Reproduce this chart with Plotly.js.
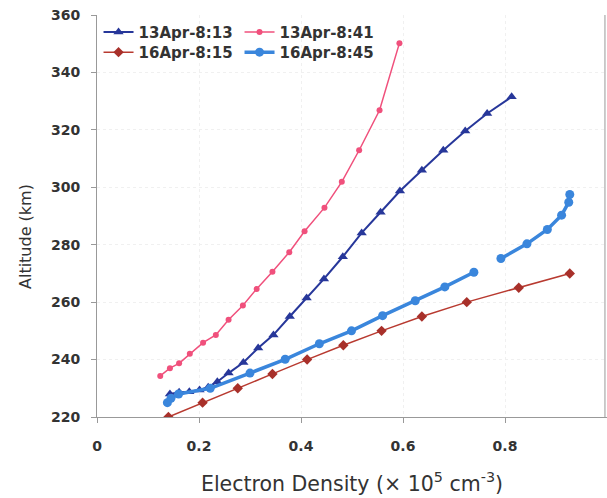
<!DOCTYPE html>
<html>
<head>
<meta charset="utf-8">
<script src="https://cdn.plot.ly/plotly-3.0.1.min.js"></script>
<style>html,body{margin:0;padding:0;background:#fff;}</style>
</head>
<body>
<div id="chart" style="width:607px;height:498px;"></div>
<script>
// 13Apr-8:13 (dark blue triangles)
const apr13_0813_x = [0.143,0.161,0.181,0.201,0.218,0.236,0.258,0.287,0.316,0.346,0.378,0.411,0.445,0.482,0.519,0.556,0.594,0.637,0.679,0.722,0.765,0.813];
const apr13_0813_y = [228.0,228.6,228.8,229.4,230.4,232.3,235.3,239.0,244.0,248.6,255.0,261.4,268.1,275.8,284.1,291.3,298.7,305.9,312.9,319.6,325.7,331.5];
// 13Apr-8:41 (pink circles)
const apr13_0841_x = [0.124,0.143,0.161,0.182,0.208,0.233,0.258,0.286,0.313,0.344,0.377,0.407,0.446,0.480,0.514,0.554,0.593];
const apr13_0841_y = [234.3,237.0,238.7,242.0,245.9,248.6,253.9,258.8,264.6,270.6,277.4,284.7,292.9,301.9,312.9,326.8,350.2];
// 16Apr-8:15 (red diamonds)
const apr16_0815_x = [0.140,0.207,0.276,0.344,0.412,0.483,0.558,0.637,0.725,0.827,0.927];
const apr16_0815_y = [220,225,230,235,240,245,250,255,260,265,270];
// 16Apr-8:45 (light blue circles, gap between 270 and 275 km)
const apr16_0845_x = [0.138,0.145,0.160,0.222,0.300,0.369,0.436,0.499,0.560,0.624,0.682,0.739,null,0.792,0.843,0.883,0.911,0.925,0.927];
const apr16_0845_y = [225.0,226.5,228.0,230.0,235.3,240.1,245.5,250.0,255.3,260.5,265.3,270.4,null,275.2,280.3,285.3,290.3,294.8,297.5];

const seriesNames = ['13Apr-8:13','13Apr-8:41','16Apr-8:15','16Apr-8:45'];
const xTickVals = [0,0.2,0.4,0.6,0.8,1];
const xTickText = ['0','0.2','0.4','0.6','0.8','1'];
const yTickVals = [220,240,260,280,300,320,340,360];

const tickFont = {family:'DejaVu Sans', size:14, color:'#333', weight:'bold'};
const legFont = {family:'DejaVu Sans', size:15, color:'#333', weight:'bold'};

const traces = [
  {x:apr13_0813_x, y:apr13_0813_y, name:seriesNames[0], mode:'lines+markers', legend:'legend',
   line:{color:'#27379a', width:2}, marker:{symbol:'triangle-up', size:9, color:'#27379a'}},
  {x:apr13_0841_x, y:apr13_0841_y, name:seriesNames[1], mode:'lines+markers', legend:'legend',
   line:{color:'#f0507c', width:1.5}, marker:{symbol:'circle', size:6, color:'#f0507c'}},
  {x:apr16_0815_x, y:apr16_0815_y, name:seriesNames[2], mode:'lines+markers', legend:'legend2',
   line:{color:'#b83a30', width:1.5}, marker:{symbol:'diamond', size:8, color:'#a8302a'}},
  {x:apr16_0845_x, y:apr16_0845_y, name:seriesNames[3], mode:'lines+markers', legend:'legend2',
   line:{color:'#3a86dc', width:3.5}, marker:{symbol:'circle', size:9, color:'#3a86dc'}}
];

const legendCommon = {orientation:'h', xanchor:'left', yanchor:'top', font:legFont,
  bgcolor:'rgba(0,0,0,0)', borderwidth:0, entrywidth:96, entrywidthmode:'pixels', tracegroupgap:0, itemwidth:30};

const layout = {
  width:607, height:498,
  margin:{l:97, r:0, t:15, b:81},
  paper_bgcolor:'#fff', plot_bgcolor:'#fff',
  showlegend:true,
  legend:Object.assign({x:0.003, y:0.998}, legendCommon),
  legend2:Object.assign({x:0.003, y:0.948}, legendCommon),
  xaxis:{range:[0,1], tickvals:xTickVals, ticktext:xTickText, ticks:'outside', ticklen:5, tickcolor:'#999',
    showline:true, linecolor:'#999', linewidth:1, zeroline:false,
    showgrid:true, gridcolor:'#f0f0f0', griddash:'dot', tickfont:tickFont, ticklabelstandoff:11,
    title:{text:'Electron Density (× 10<sup>5</sup> cm<sup>-3</sup>)', font:{family:'DejaVu Sans', size:20.5, color:'#333'}, standoff:23}},
  yaxis:{range:[220,360], tickvals:yTickVals, ticks:'outside', ticklen:5, tickcolor:'#999',
    showline:true, mirror:true, linecolor:'#999', linewidth:1, zeroline:false,
    showgrid:true, gridcolor:'#f0f0f0', griddash:'dot', tickfont:tickFont, ticklabelstandoff:8},
  shapes:[{type:'line', xref:'paper', yref:'paper', x0:0.996, x1:0.996, y0:0, y1:1, line:{color:'#999', width:1}}],
  annotations:[{text:'Altitude (km)', xref:'paper', yref:'paper', x:-0.139, y:0.448, textangle:-90,
    showarrow:false, xanchor:'center', yanchor:'middle', font:{family:'DejaVu Sans', size:16, color:'#333'}}]
};

Plotly.newPlot('chart', traces, layout, {displayModeBar:false, staticPlot:true});
</script>
</body>
</html>
